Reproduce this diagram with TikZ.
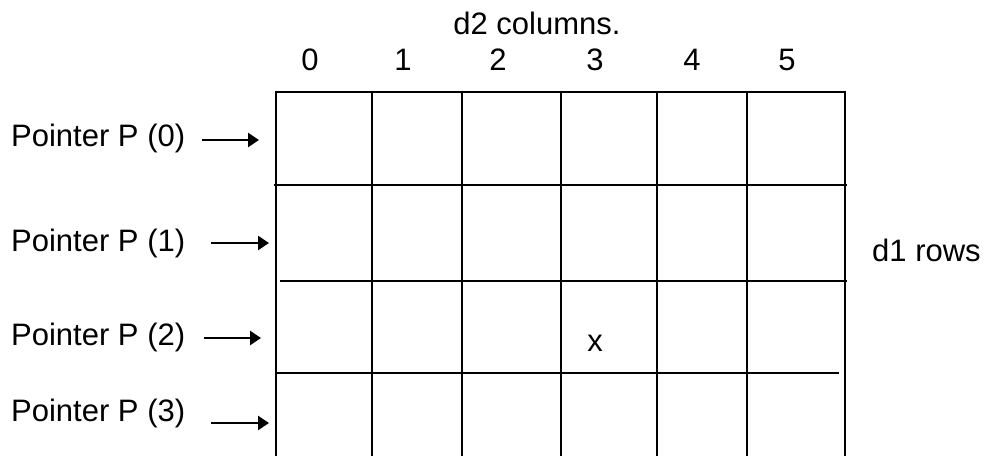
\documentclass[tikz,border=0pt]{standalone}
\usepackage{fontspec}
\setmainfont{Liberation Sans}
\usetikzlibrary{arrows.meta}
\begin{document}
\begin{tikzpicture}[x=1pt,y=-1pt,
  lbl/.style={inner sep=0pt, font=\fontsize{31}{37}\selectfont},
  gridline/.style={line width=2.6pt},
  ptr/.style={line width=2.6pt, -{Triangle[length=11pt,width=14pt]}}]
\useasboundingbox (0,0) rectangle (987,456);
% grid
\draw[gridline] (276,92) -- (845,92);
\draw[gridline] (274,185) -- (847,185);
\draw[gridline] (280,281) -- (847,281);
\draw[gridline] (276,373) -- (839,373);
\foreach \x in {276,372,462,561,657,747,845}
  \draw[gridline] (\x,90.7) -- (\x,456);
% header
\node[lbl] (title) at (537,23) {d2 columns.};
\node[lbl] (c0) at (310,60) {0};
\node[lbl] (c1) at (403,60) {1};
\node[lbl] (c2) at (498,60) {2};
\node[lbl] (c3) at (595,60) {3};
\node[lbl] (c4) at (692,60) {4};
\node[lbl] (c5) at (787,60) {5};
% cell mark
\node[lbl] (xmark) at (595,343) {x};
% rows label
\node[lbl, anchor=west] (rows) at (872,250) {d1 rows};
% pointers
\node[lbl, anchor=west] (p0) at (11,138) {Pointer P (0)};
\node[lbl, anchor=west] (p1) at (11,243) {Pointer P (1)};
\node[lbl, anchor=west] (p2) at (11,337) {Pointer P (2)};
\node[lbl, anchor=west] (p3) at (11,413) {Pointer P (3)};
\coordinate (t0) at (259,140);
\coordinate (t1) at (269,243);
\coordinate (t2) at (261,338);
\coordinate (t3) at (269,423);
\draw[ptr] (p0.east) ++(17,2) -- (t0);
\draw[ptr] (p1.east) ++(26,0) -- (t1);
\draw[ptr] (p2.east) ++(19,1) -- (t2);
\draw[ptr] (p3.east) ++(26,10) -- (t3);
\end{tikzpicture}
\end{document}
